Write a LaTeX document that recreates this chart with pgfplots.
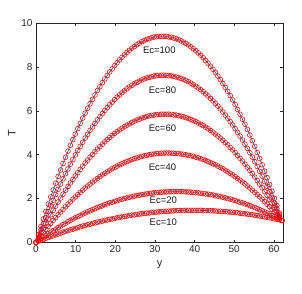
\documentclass[border=0pt]{standalone}
\usepackage{pgfplots}
\usepackage{pgfplotstable}
\pgfplotsset{compat=1.18}
\usepackage{fontspec}
\setmainfont{Liberation Sans}
\definecolor{mblue}{rgb}{0,0.447,0.741}
\definecolor{axgray}{gray}{0.15}
\pgfplotstableread{
x T10 T20 T40 T60 T80 T100
0.00 0.00 0.00 0.00 0.00 0.00 0.00
0.62 0.05 0.08 0.15 0.22 0.29 0.36
1.24 0.09 0.16 0.30 0.44 0.58 0.72
1.86 0.13 0.24 0.44 0.65 0.86 1.07
2.48 0.18 0.31 0.59 0.86 1.13 1.41
3.10 0.22 0.39 0.73 1.06 1.40 1.74
3.72 0.26 0.46 0.86 1.26 1.67 2.07
4.34 0.30 0.53 1.00 1.46 1.92 2.39
4.96 0.34 0.60 1.13 1.65 2.18 2.70
5.58 0.38 0.67 1.26 1.84 2.42 3.01
6.20 0.42 0.74 1.38 2.02 2.66 3.30
6.82 0.46 0.81 1.50 2.20 2.90 3.60
7.44 0.50 0.87 1.62 2.38 3.13 3.88
8.06 0.53 0.94 1.74 2.55 3.35 4.16
8.68 0.57 1.00 1.85 2.71 3.57 4.43
9.30 0.60 1.06 1.97 2.87 3.78 4.69
9.92 0.64 1.12 2.07 3.03 3.99 4.94
10.54 0.67 1.17 2.18 3.18 4.19 5.19
11.16 0.71 1.23 2.28 3.33 4.38 5.43
11.78 0.74 1.29 2.38 3.48 4.57 5.67
12.40 0.77 1.34 2.48 3.62 4.76 5.90
13.02 0.80 1.39 2.57 3.75 4.93 6.12
13.64 0.83 1.44 2.66 3.89 5.11 6.33
14.26 0.86 1.49 2.75 4.01 5.27 6.53
14.88 0.89 1.54 2.84 4.14 5.43 6.73
15.50 0.92 1.59 2.92 4.26 5.59 6.93
16.12 0.94 1.63 3.00 4.37 5.74 7.11
16.74 0.97 1.67 3.08 4.48 5.88 7.29
17.36 1.00 1.72 3.15 4.59 6.02 7.46
17.98 1.02 1.76 3.22 4.69 6.15 7.62
18.60 1.05 1.80 3.29 4.79 6.28 7.78
19.22 1.07 1.83 3.36 4.88 6.40 7.92
19.84 1.09 1.87 3.42 4.97 6.52 8.07
20.46 1.12 1.90 3.48 5.05 6.63 8.20
21.08 1.14 1.94 3.54 5.13 6.73 8.33
21.70 1.16 1.97 3.59 5.21 6.83 8.45
22.32 1.18 2.00 3.64 5.28 6.92 8.56
22.94 1.20 2.03 3.69 5.35 7.01 8.67
23.56 1.22 2.06 3.73 5.41 7.09 8.77
24.18 1.24 2.08 3.78 5.47 7.17 8.86
24.80 1.25 2.11 3.82 5.53 7.24 8.94
25.42 1.27 2.13 3.85 5.58 7.30 9.02
26.04 1.29 2.15 3.89 5.62 7.36 9.09
26.66 1.30 2.18 3.92 5.67 7.41 9.16
27.28 1.32 2.19 3.95 5.70 7.46 9.21
27.90 1.33 2.21 3.97 5.74 7.50 9.26
28.52 1.34 2.23 4.00 5.77 7.53 9.30
29.14 1.36 2.24 4.02 5.79 7.56 9.34
29.76 1.37 2.26 4.03 5.81 7.59 9.37
30.38 1.38 2.27 4.05 5.83 7.61 9.39
31.00 1.39 2.28 4.06 5.84 7.62 9.40
31.62 1.40 2.29 4.07 5.85 7.63 9.41
32.24 1.41 2.30 4.07 5.85 7.63 9.41
32.86 1.42 2.30 4.08 5.85 7.62 9.40
33.48 1.42 2.31 4.08 5.85 7.61 9.38
34.10 1.43 2.31 4.07 5.84 7.60 9.36
34.72 1.44 2.31 4.07 5.82 7.58 9.33
35.34 1.44 2.32 4.06 5.81 7.55 9.30
35.96 1.45 2.31 4.05 5.78 7.52 9.25
36.58 1.45 2.31 4.03 5.76 7.48 9.20
37.20 1.45 2.31 4.02 5.73 7.44 9.14
37.82 1.46 2.30 4.00 5.69 7.39 9.08
38.44 1.46 2.30 3.97 5.65 7.33 9.01
39.06 1.46 2.29 3.95 5.61 7.27 8.93
39.68 1.46 2.28 3.92 5.56 7.20 8.84
40.30 1.46 2.27 3.89 5.51 7.13 8.75
40.92 1.46 2.26 3.86 5.45 7.05 8.65
41.54 1.46 2.24 3.82 5.39 6.97 8.54
42.16 1.45 2.23 3.78 5.33 6.88 8.43
42.78 1.45 2.21 3.74 5.26 6.78 8.30
43.40 1.45 2.20 3.69 5.19 6.68 8.18
44.02 1.44 2.18 3.64 5.11 6.57 8.04
44.64 1.44 2.16 3.59 5.03 6.46 7.90
45.26 1.43 2.13 3.54 4.94 6.34 7.75
45.88 1.42 2.11 3.48 4.85 6.22 7.59
46.50 1.42 2.08 3.42 4.76 6.09 7.43
47.12 1.41 2.06 3.36 4.66 5.95 7.25
47.74 1.40 2.03 3.29 4.55 5.81 7.07
48.36 1.39 2.00 3.22 4.45 5.67 6.89
48.98 1.38 1.97 3.15 4.33 5.51 6.70
49.60 1.37 1.94 3.08 4.22 5.36 6.50
50.22 1.36 1.91 3.00 4.10 5.19 6.29
50.84 1.35 1.87 2.92 3.97 5.02 6.07
51.46 1.33 1.83 2.84 3.84 4.85 5.85
52.08 1.32 1.80 2.75 3.71 4.67 5.62
52.70 1.30 1.76 2.67 3.57 4.48 5.39
53.32 1.29 1.72 2.57 3.43 4.29 5.15
53.94 1.27 1.68 2.48 3.29 4.09 4.90
54.56 1.26 1.63 2.38 3.14 3.89 4.64
55.18 1.24 1.59 2.28 2.98 3.68 4.38
55.80 1.22 1.54 2.18 2.82 3.46 4.10
56.42 1.20 1.49 2.08 2.66 3.24 3.83
57.04 1.18 1.44 1.97 2.49 3.02 3.54
57.66 1.16 1.39 1.86 2.32 2.78 3.25
58.28 1.14 1.34 1.74 2.14 2.55 2.95
58.90 1.12 1.29 1.63 1.96 2.30 2.64
59.52 1.10 1.23 1.51 1.78 2.05 2.33
60.14 1.07 1.18 1.38 1.59 1.80 2.01
60.76 1.05 1.12 1.26 1.40 1.54 1.68
61.38 1.03 1.06 1.13 1.20 1.27 1.34
62.00 1.00 1.00 1.00 1.00 1.00 1.00
}\datatable
\begin{document}
\begin{tikzpicture}
\path[use as bounding box] (-36pt,-50.7pt) rectangle (266pt,242.3pt);
\begin{axis}[
  at={(0,0)}, anchor=south west,
  scale only axis, width=247pt, height=219pt,
  xmin=0, xmax=62.3, ymin=0, ymax=10,
  xtick={0,10,...,60}, ytick={0,2,...,10},
  tick align=inside, major tick length=2.7pt,
  axis line style={axgray, line width=0.5pt},
  every tick/.style={axgray, line width=0.5pt},
  tick label style={font=\fontsize{10}{12}\selectfont, text=axgray},
  /pgf/number format/assume math mode=true,
  xlabel={y}, ylabel={T},
  label style={font=\fontsize{11}{13}\selectfont, text=axgray},
  xlabel style={at={(axis description cs:0.5,-0.104)}, anchor=center},
  ylabel style={at={(axis description cs:-0.098,0.5)}, anchor=center},
  clip=false,
  mk/.style={only marks, mark=o, mark size=2.4pt, red, mark options={line width=0.55pt}},
  ln/.style={no marks, mblue, line width=0.7pt},
]
\addplot[mk] table[x=x,y=T100]{\datatable};
\addplot[ln] table[x=x,y=T100]{\datatable};
\addplot[mk] table[x=x,y=T80]{\datatable};
\addplot[ln] table[x=x,y=T80]{\datatable};
\addplot[mk] table[x=x,y=T60]{\datatable};
\addplot[ln] table[x=x,y=T60]{\datatable};
\addplot[mk] table[x=x,y=T40]{\datatable};
\addplot[ln] table[x=x,y=T40]{\datatable};
\addplot[mk] table[x=x,y=T20]{\datatable};
\addplot[ln] table[x=x,y=T20]{\datatable};
\addplot[mk] table[x=x,y=T10]{\datatable};
\addplot[ln] table[x=x,y=T10]{\datatable};
\begin{scope}[every node/.style={font=\fontsize{9.5}{11}\selectfont, text=black!90}]
\node at (axis cs:31.1,8.78) {Ec=100};
\node at (axis cs:31.9,6.95) {Ec=80};
\node at (axis cs:31.9,5.23) {Ec=60};
\node at (axis cs:31.9,3.45) {Ec=40};
\node at (axis cs:32.1,1.93) {Ec=20};
\node at (axis cs:32.1,0.90) {Ec=10};
\end{scope}
\end{axis}
\end{tikzpicture}
\end{document}
